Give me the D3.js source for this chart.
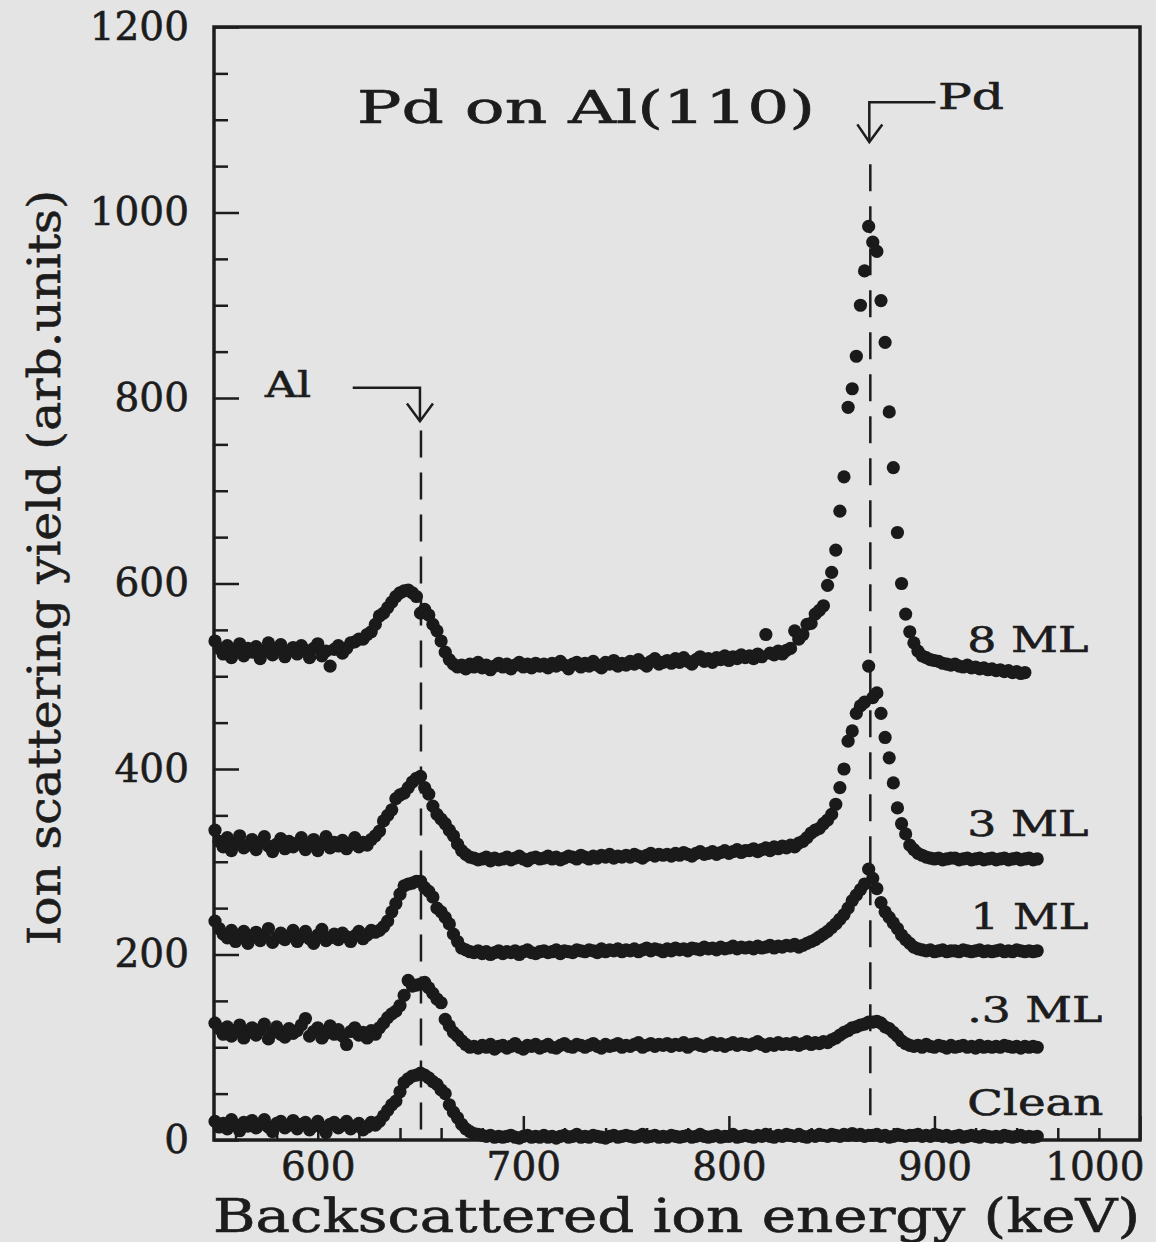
<!DOCTYPE html>
<html><head><meta charset="utf-8">
<script src="https://cdn.jsdelivr.net/npm/d3@7"></script>
<style>html,body{margin:0;padding:0;background:#e4e4e4;} svg{display:block}</style>
</head><body>
<script>
// Energy grid of the spectra (keV): channel i sits at E_START + i*E_STEP
const E_START = 550, E_STEP = 2;

const clean = [
20,14,18,12,22,16,10,19,15,21, 13,17,22,14,9,18,20,13,16,21, 12,17,19,11,15,20,14,8,17,19, 13,16,20,12,15,18,11,14,19,16,
20,26,32,38,42,52,62,66,69,70, 72,70,67,63,60,54,50,38,30,24, 17,12,9,7,6,5,4,5,3,4, 3,4,5,3,2,4,5,3,4,3,
5,3,4,2,4,5,3,4,6,3, 4,3,5,4,3,2,4,5,3,4, 5,4,3,4,6,3,4,5,3,4, 3,5,4,3,4,5,3,4,6,4,
3,4,5,3,4,4,6,3,4,5, 4,3,5,4,6,4,3,5,4,6, 5,4,6,4,3,5,4,6,5,4, 6,5,4,6,5,7,5,6,4,5,
5,6,4,5,3,4,6,5,4,5, 5,6,4,5,4,6,5,4,5,3, 4,5,3,4,5,4,3,5,4,3, 4,3,5,4,3,4,5,3,4,3, 4];

const ml03 = [
126,120,114,122,112,118,124,110,116,121, 113,119,125,109,116,122,114,111,120,115, 118,124,131,112,117,121,110,115,123,114, 119,112,103,117,121,113,116,110,118,114,
121,126,132,136,139,145,156,172,166,167, 168,170,164,158,152,148,130,123,116,112, 107,103,100,101,99,102,100,103,98,101, 102,99,101,104,100,98,102,101,103,99,
101,103,100,99,102,104,101,100,103,102, 100,102,104,101,99,103,101,102,104,100, 102,101,103,105,100,102,104,101,103,102, 104,101,103,102,105,100,103,104,102,101,
103,105,102,104,101,103,105,102,104,103, 102,104,106,103,101,104,102,105,103,104, 103,105,102,104,106,103,105,104,106,105, 108,110,113,116,118,121,122,124,125,127,
127,128,126,122,120,116,112,107,104,102, 101,102,100,103,101,100,102,101,99,102, 100,101,102,100,101,99,102,100,101,100, 101,100,102,101,100,101,99,101,100,101, 100];

const ml1 = [
236,228,222,218,226,214,220,225,212,219, 224,215,221,228,213,218,223,216,220,226, 214,219,225,217,212,221,227,215,218,222, 216,223,219,214,220,225,217,221,226,224,
226,230,236,246,255,265,274,276,277,279, 279,272,268,262,250,246,240,233,222,214, 207,205,203,202,204,201,203,200,202,204, 201,203,202,204,200,203,205,202,201,203,
204,202,203,205,201,204,203,202,205,204, 203,205,204,202,206,203,205,204,206,203, 205,204,206,203,205,207,204,206,205,203, 206,204,207,205,206,204,207,206,205,208,
206,207,205,208,206,207,209,206,208,207, 208,206,209,207,208,210,207,209,208,210, 209,211,208,210,212,214,216,219,222,225, 229,233,238,243,250,258,264,270,276,292,
282,271,256,246,240,234,228,221,216,212, 208,206,205,204,205,203,204,205,203,204, 204,203,205,204,203,204,205,203,204,203, 204,205,203,204,203,205,204,203,204,203, 204];

const ml3 = [
334,322,316,326,312,320,328,315,318,324, 313,321,327,317,311,319,325,314,322,316, 320,326,313,318,324,312,319,327,315,321, 317,323,314,320,326,316,321,318,324,328,
333,344,350,356,368,372,374,380,386,390, 392,380,373,360,351,346,341,334,328,319, 312,308,305,304,302,303,305,301,304,302, 303,305,302,304,306,303,301,304,305,303,
304,306,303,305,302,304,306,305,303,307, 305,303,306,304,307,305,308,304,306,305, 307,305,308,306,304,307,309,306,308,307, 308,306,309,307,310,308,306,309,311,308,
309,311,308,310,312,309,311,313,310,312, 312,314,311,313,315,312,316,314,317,315, 318,316,320,322,326,331,334,336,341,345, 351,362,380,400,430,441,460,468,472,511,
477,482,460,434,412,385,358,341,330,318, 313,309,307,305,304,303,304,302,303,304, 304,302,303,304,302,303,304,302,303,304, 302,303,304,302,303,304,302,303,304,302, 303];

const ml8 = [
538,530,524,533,520,528,535,522,530,526, 532,519,527,536,523,529,534,521,527,531, 524,533,528,520,530,535,522,527,511,529, 533,525,530,536,537,540,540,545,548,556,
565,568,574,580,586,590,592,593,590,586, 568,572,566,556,549,538,526,518,513,510, 512,508,513,510,515,509,512,507,511,514, 510,513,508,512,515,510,513,509,514,511,
513,509,514,511,516,512,508,513,515,510, 514,511,516,512,509,515,513,517,511,514, 512,516,513,518,514,511,516,519,513,515, 517,514,519,515,520,516,513,518,521,516,
519,515,520,518,522,517,521,519,523,520, 522,519,524,521,545,525,523,527,524,528, 530,549,540,545,556,557,567,571,576,598, 612,636,678,715,790,810,845,900,937,985,
968,958,905,860,785,725,655,600,567,548, 536,527,522,520,518,517,516,514,513,512, 513,511,510,512,509,510,508,509,507,508, 506,507,505,506,504,505,503,504];

const seriesData = [clean, ml03, ml1, ml3, ml8];
const seriesLabels = ["Clean", ".3 ML", "1 ML", "3 ML", "8 ML"];
const labelYValues = [27, 127, 228, 328, 526];      // label baseline in yield units
const labelLeftE = [916, 916, 917.5, 916, 916];     // label left edge in keV
const labelWidths = [136, 135, 118, 121, 121];

const xTickValues = [600, 700, 800, 900, 1000];
const xMinorValues = [560,580,620,640,660,680,720,740,760,780,820,840,860,880,920,940,960,980];
const yTickValues = [0, 200, 400, 600, 800, 1000, 1200];
const yMinorValues = [50,100,150,250,300,350,450,500,550,650,700,750,850,900,950,1050,1100,1150];

const alEnergy = 650.2, pdEnergy = 868.8;

const W = 1156, H = 1242;
const FONT = "'DejaVu Serif', serif";
const INK = "#1c1c1c";

const svg = d3.select("body").append("svg").attr("width", W).attr("height", H)
  .style("background", "#e4e4e4");

const x = d3.scaleLinear().domain([550, 1000]).range([215, 1140]);
const y = d3.scaleLinear().domain([0, 1200]).range([1140, 27]);

// frame
svg.append("rect").attr("x", 214).attr("y", 27).attr("width", 1140 - 214).attr("height", 1140 - 27)
  .attr("fill", "none").attr("stroke", INK).attr("stroke-width", 3.5);

// y axis
const yAxis = svg.append("g").attr("transform", "translate(214,0)")
  .call(d3.axisLeft(y).tickValues(yTickValues).tickSize(-25).tickPadding(25).tickFormat(d3.format("d")));
const yMinor = svg.append("g").attr("transform", "translate(214,0)")
  .call(d3.axisLeft(y).tickValues(yMinorValues).tickSize(-14).tickFormat(""));
// x axis
const xAxis = svg.append("g").attr("transform", "translate(0,1140)")
  .call(d3.axisBottom(x).tickValues(xTickValues).tickSize(-24).tickPadding(12).tickFormat(d3.format("d")));
const xMinor = svg.append("g").attr("transform", "translate(0,1140)")
  .call(d3.axisBottom(x).tickValues(xMinorValues).tickSize(-12).tickFormat(""));

[yAxis, yMinor, xAxis, xMinor].forEach(g => {
  g.select(".domain").remove();
  g.selectAll("line").attr("stroke", INK).attr("stroke-width", 2.5);
  g.selectAll("text").attr("font-family", FONT).attr("font-size", 39).attr("fill", INK)
    .attr("stroke", INK).attr("stroke-width", 0.6);
});
xAxis.selectAll(".tick text").filter(d => d === 1000).attr("text-anchor", "end").attr("x", 4);

// dashed reference lines
svg.append("line").attr("x1", x(alEnergy)).attr("x2", x(alEnergy)).attr("y1", y(765)).attr("y2", 1140)
  .attr("stroke", INK).attr("stroke-width", 2.5).attr("stroke-dasharray", "27,15");
svg.append("line").attr("x1", x(pdEnergy)).attr("x2", x(pdEnergy)).attr("y1", y(1052)).attr("y2", 1140)
  .attr("stroke", INK).attr("stroke-width", 2.5).attr("stroke-dasharray", "27,15");

// data points
seriesData.forEach(vals => {
  svg.append("g").selectAll("circle").data(vals).enter().append("circle")
    .attr("cx", (d, i) => x(E_START + i * E_STEP))
    .attr("cy", d => y(d))
    .attr("r", 6.6)
    .attr("fill", "#1a1a1a");
});

// arrows
const ax = x(alEnergy) - 1;
svg.append("path").attr("d", `M${x(617)},${y(811)} H${ax} V${y(775)}`)
  .attr("fill", "none").attr("stroke", INK).attr("stroke-width", 2.5);
svg.append("path").attr("d", `M${ax - 13},${y(794)} L${ax},${y(775)} L${ax + 13},${y(794)}`)
  .attr("fill", "none").attr("stroke", INK).attr("stroke-width", 2.5);
const px = x(pdEnergy) - 1;
svg.append("path").attr("d", `M${x(900.5)},${y(1119)} H${px} V${y(1076)}`)
  .attr("fill", "none").attr("stroke", INK).attr("stroke-width", 2.5);
svg.append("path").attr("d", `M${px - 12},${y(1095)} L${px},${y(1076)} L${px + 13},${y(1095)}`)
  .attr("fill", "none").attr("stroke", INK).attr("stroke-width", 2.5);

function txt(s, xx, yy, size, len) {
  const t = svg.append("text").attr("x", xx).attr("y", yy).attr("font-family", FONT)
    .attr("font-size", size).attr("fill", INK).attr("stroke", INK).attr("stroke-width", 0.6).text(s);
  if (len) t.attr("textLength", len).attr("lengthAdjust", "spacingAndGlyphs");
  return t;
}
txt("Al", 265, y(801), 36, 46);
txt("Pd", 938, y(1112), 35, 66);
txt("Pd on Al(110)", 357, 123, 44, 458);

seriesLabels.forEach((s, i) => {
  txt(s, x(labelLeftE[i]), y(labelYValues[i]), 35, labelWidths[i]);
});

// axis titles
txt("Backscattered ion energy (keV)", 213, 1232, 46, 927);
svg.append("text").attr("transform", "translate(60,945) rotate(-90)")
  .attr("font-family", FONT).attr("font-size", 44).attr("fill", INK)
  .attr("stroke", INK).attr("stroke-width", 0.6)
  .attr("textLength", 755).attr("lengthAdjust", "spacingAndGlyphs")
  .text("Ion scattering yield (arb.units)");
</script>
</body></html>
